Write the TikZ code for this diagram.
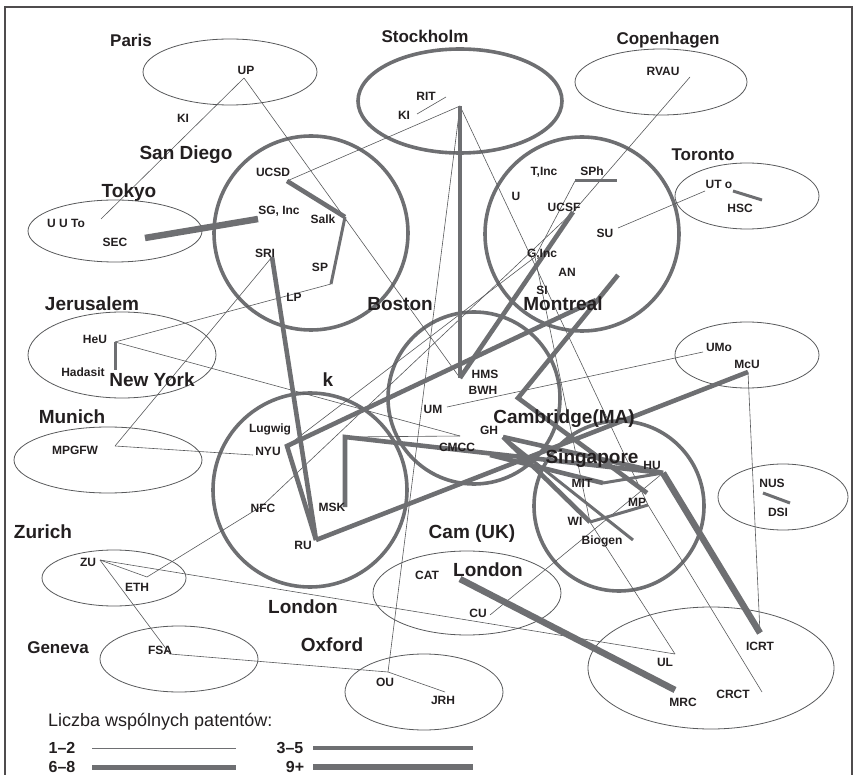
\documentclass[tikz,border=0pt]{standalone}
\usepackage{fontspec}
\setmainfont{Liberation Sans}
\definecolor{lg}{RGB}{110,111,114}
\definecolor{txt}{RGB}{35,31,32}
\begin{document}
\begin{tikzpicture}[x=1pt,y=-1pt,
  lbl/.style={font=\fontsize{12}{12}\selectfont\bfseries, text=txt, inner sep=0pt, text height=8.6pt, text depth=0pt},
  city/.style={font=\fontsize{19}{19}\selectfont\bfseries, text=txt, inner sep=0pt, text height=13.6pt, text depth=0pt},
  cityS/.style={font=\fontsize{17}{17}\selectfont\bfseries, text=txt, inner sep=0pt, text height=12.2pt, text depth=0pt},
  thin/.style={draw=lg!80!black, line width=0.6pt},
  wa/.style={draw=lg, line width=3pt},
  wb/.style={draw=lg, line width=4.6pt},
  wc/.style={draw=lg, line width=6.5pt},
  ring/.style={draw=lg, line width=3.6pt},
  oval/.style={draw=lg!80!black, line width=0.8pt},
]
\useasboundingbox (0,0) rectangle (857,775);
\draw[draw=txt!80, line width=1.5pt] (5,7) rectangle (852,778);

% ---- group outlines
\draw[oval] (230,72) ellipse [x radius=87, y radius=33];   % Paris
\draw[ring] (460,101) ellipse [x radius=102, y radius=52]; % Stockholm
\draw[oval] (661,82) ellipse [x radius=86, y radius=33];   % Copenhagen
\draw[oval] (747,196) ellipse [x radius=72, y radius=33];  % Toronto
\draw[oval] (115,231) ellipse [x radius=87, y radius=31];  % Tokyo
\draw[ring] (311,233) circle [radius=97];                  % San Diego
\draw[ring] (582,234) circle [radius=97];                  % SF
\draw[oval] (122,355) ellipse [x radius=94, y radius=43];  % Jerusalem
\draw[oval] (108,460) ellipse [x radius=94, y radius=33];  % Munich
\draw[ring] (474,398) circle [radius=86];                  % Boston
\draw[ring] (310,490) circle [radius=97];                  % New York
\draw[oval] (747,355) ellipse [x radius=72, y radius=33];  % Montreal
\draw[ring] (619,506) circle [radius=85];                  % Cambridge MA
\draw[oval] (783,497) ellipse [x radius=65, y radius=33];  % Singapore
\draw[oval] (114,578) ellipse [x radius=72, y radius=28];  % Zurich
\draw[oval] (179,659) ellipse [x radius=79, y radius=33];  % Geneva
\draw[oval] (467,593) ellipse [x radius=94, y radius=42];  % Cam UK
\draw[oval] (424,692) ellipse [x radius=79, y radius=38];  % Oxford
\draw[oval] (711,668) ellipse [x radius=123, y radius=61]; % London

% ---- vertices
\coordinate (vUP) at (244,78);
\coordinate (vUUTo) at (101,219);
\coordinate (vSEC) at (145,238);
\coordinate (vSG) at (258,219);
\coordinate (vUCSD) at (287,181);
\coordinate (vSalk) at (345,217);
\coordinate (vSP) at (331,284);
\coordinate (vSRI) at (272,257);
\coordinate (vRIT) at (446,97);
\coordinate (vKIs) at (417,114);
\coordinate (vSth) at (460,106);
\coordinate (vHMS) at (460,378);
\coordinate (vOU) at (388,672);
\coordinate (vJRH) at (445,692);
\coordinate (vFSA) at (170,654);
\coordinate (vZU) at (100,560);
\coordinate (vETH) at (147,577);
\coordinate (vNFC) at (262,506);
\coordinate (vHeU) at (115,342);
\coordinate (vHad) at (115,370);
\coordinate (vMPG) at (115,446);
\coordinate (vNYUt) at (253,455);
\coordinate (vNYU) at (287,446);
\coordinate (vRU) at (316,540);
\coordinate (vMSK) at (345,507);
\coordinate (vMSKc) at (345,437);
\coordinate (vCMCC) at (460,436);
\coordinate (vUM) at (447,407);
\coordinate (vUMo) at (703,352);
\coordinate (vMcU) at (748,372);
\coordinate (vICRT) at (760,633);
\coordinate (vHU) at (663,473);
\coordinate (vMRC) at (675,690);
\coordinate (vLonUK) at (460,579);
\coordinate (vUL) at (675,654);
\coordinate (vCRCT) at (762,692);
\coordinate (vMP) at (648,505);
\coordinate (vCU) at (490,615);
\coordinate (vWI) at (590,522);
\coordinate (vSPh) at (575,181);
\coordinate (vSPhR) at (617,181);
\coordinate (vUCSF) at (573,212);
\coordinate (vGInc) at (535,257);
\coordinate (vAN) at (618,275);
\coordinate (vANc) at (518,398);
\coordinate (vMont) at (596,300);
\coordinate (vSU) at (618,228);
\coordinate (vUT) at (705,191);
\coordinate (vUTo) at (733,191);
\coordinate (vHSC) at (762,200);
\coordinate (vRVAU) at (690,77);
\coordinate (vNUS) at (763,493);
\coordinate (vDSI) at (790,503);
\coordinate (vGH) at (503,437);
\coordinate (vMIT) at (603,483);
\coordinate (vMITl) at (490,455);
\coordinate (vBiogen) at (633,540);
\coordinate (vClu) at (647,493);

% ---- thin links
\draw[thin] (vUP) -- (vUUTo);
\draw[thin] (vUP) -- (vHMS);
\draw[thin] (vSth) -- (vUCSD);
\draw[thin] (vKIs) -- (vRIT);
\draw[thin] (vSth) -- (vOU);
\draw[thin] (vSth) -- (vMP) -- (vCRCT);
\draw[thin] (vFSA) -- (vOU) -- (vJRH);
\draw[thin] (vZU) -- (vETH) -- (vNFC) -- (vUCSF);
\draw[thin] (vZU) -- (vFSA);
\draw[thin] (vZU) -- (vUL);
\draw[thin] (vNYU) -- (vGInc);
\draw[thin] (vHeU) -- (vSP);
\draw[thin] (vHeU) -- (vCMCC);
\draw[thin] (vMPG) -- (vSRI);
\draw[thin] (vMPG) -- (vNYUt);
\draw[thin] (vUMo) -- (vUM);
\draw[thin] (vMcU) -- (vICRT);
\draw[thin] (vSU) -- (vUT);
\draw[thin] (vRVAU) -- (vUCSF);
\draw[thin] (vCU) -- (vHU);
\draw[thin] (vWI) -- (vUL);
\draw[thin] (vSPh) -- (vGInc) -- (vWI);
\draw[thin] (vMSKc) -- (vCMCC);

% ---- heavier links
\draw[wc] (vSEC) -- (vSG);
\draw[wb] (vUCSD) -- (vSalk);
\draw[wa] (vSalk) -- (vSP);
\draw[wb] (vSRI) -- (vRU);
\draw[wb] (vSth) -- (vHMS);
\draw[wb] (vUCSF) -- (vHMS);
\draw[wb] (vAN) -- (vANc) -- (vClu);
\draw[wb] (vMont) -- (vNYU) -- (vRU);
\draw[wb] (vRU) -- (vMcU);
\draw[wb] (vMSK) -- (vMSKc) -- (vHU);
\draw[wc] (vHU) -- (vICRT);
\draw[wc] (vLonUK) -- (vMRC);
\draw[wa] (vHad) -- (vHeU);
\draw[wa] (vSPh) -- (vSPhR);
\draw[wa] (vUTo) -- (vHSC);
\draw[wa] (vNUS) -- (vDSI);
\draw[wb] (vGH) -- (vHU);
\draw[wb] (vGH) -- (vWI);
\draw[wa] (vGH) -- (vBiogen);
\draw[wb] (vMITl) -- (vMIT);
\draw[wa] (vMIT) -- (vHU);
\draw[wa] (vWI) -- (vMP);

% ---- city labels
\node[cityS] (tParis) at (131,40) {Paris};
\node[cityS] (tStock) at (425,36) {Stockholm};
\node[cityS] (tCopen) at (668,38) {Copenhagen};
\node[cityS] (tToronto) at (703,154) {Toronto};
\node[city] (tSD) at (186,153) {San Diego};
\node[city] (tTokyo) at (129,191) {Tokyo};
\node[city] (tJer) at (92,304) {Jerusalem};
\node[city] (tNY) at (152,380) {New York};
\node[city] (tMunich) at (72,417) {Munich};
\node[city] (tBoston) at (400,304) {Boston};
\node[city] (tMontreal) at (563,304) {Montreal};
\node[city] (tk) at (328,380) {k};
\node[city] (tCamMA) at (564,417) {Cambridge(MA)};
\node[city] (tSing) at (592,457) {Singapore};
\node[city] (tZurich) at (43,532) {Zurich};
\node[city] (tCamUK) at (472,532) {Cam (UK)};
\node[city] (tLonUK) at (488,570) {London};
\node[city] (tLondon) at (303,607) {London};
\node[cityS] (tGeneva) at (58,647) {Geneva};
\node[city] (tOxford) at (332,645) {Oxford};

% ---- small labels
\node[lbl] (UP) at (246,70) {UP};
\node[lbl] (KIp) at (183,118) {KI};
\node[lbl] (UUTo) at (66,223) {U U To};
\node[lbl] (SEC) at (115,242) {SEC};
\node[lbl] (RIT) at (426,96) {RIT};
\node[lbl] (KI) at (404,115) {KI};
\node[lbl] (RVAU) at (663,71) {RVAU};
\node[lbl] (UCSD) at (273,172) {UCSD};
\node[lbl] (SG) at (279,210) {SG, Inc};
\node[lbl] (Salk) at (323,219) {Salk};
\node[lbl] (SRI) at (265,253) {SRI};
\node[lbl] (SP) at (320,267) {SP};
\node[lbl] (LP) at (294,297) {LP};
\node[lbl] (TInc) at (544,171) {T,Inc};
\node[lbl] (SPh) at (592,171) {SPh};
\node[lbl] (U) at (516,196) {U};
\node[lbl] (UCSF) at (564,207) {UCSF};
\node[lbl] (SU) at (605,233) {SU};
\node[lbl] (GInc) at (542,253) {G,Inc};
\node[lbl] (AN) at (567,272) {AN};
\node[lbl] (SI) at (542,290) {SI};
\node[lbl] (UTo) at (719,184) {UT o};
\node[lbl] (HSC) at (740,208) {HSC};
\node[lbl] (HeU) at (95,339) {HeU};
\node[lbl] (Hadasit) at (83,372) {Hadasit};
\node[lbl] (MPGFW) at (75,450) {MPGFW};
\node[lbl] (Lugwig) at (270,428) {Lugwig};
\node[lbl] (NYU) at (268,451) {NYU};
\node[lbl] (NFC) at (263,508) {NFC};
\node[lbl] (RU) at (303,545) {RU};
\node[lbl] (MSK) at (332,507) {MSK};
\node[lbl] (HMS) at (485,374) {HMS};
\node[lbl] (BWH) at (483,390) {BWH};
\node[lbl] (UM) at (433,409) {UM};
\node[lbl] (GH) at (489,430) {GH};
\node[lbl] (CMCC) at (457,447) {CMCC};
\node[lbl] (UMo) at (719,347) {UMo};
\node[lbl] (McU) at (747,364) {McU};
\node[lbl] (HU) at (652,465) {HU};
\node[lbl] (MIT) at (582,483) {MIT};
\node[lbl] (MP) at (637,502) {MP};
\node[lbl] (WI) at (575,521) {WI};
\node[lbl] (Biogen) at (602,540) {Biogen};
\node[lbl] (NUS) at (772,483) {NUS};
\node[lbl] (DSI) at (778,512) {DSI};
\node[lbl] (ZU) at (88,562) {ZU};
\node[lbl] (ETH) at (137,587) {ETH};
\node[lbl] (FSA) at (160,650) {FSA};
\node[lbl] (CAT) at (427,575) {CAT};
\node[lbl] (CU) at (478,613) {CU};
\node[lbl] (OU) at (385,682) {OU};
\node[lbl] (JRH) at (443,700) {JRH};
\node[lbl] (ICRT) at (760,646) {ICRT};
\node[lbl] (UL) at (665,662) {UL};
\node[lbl] (MRC) at (683,702) {MRC};
\node[lbl] (CRCT) at (733,694) {CRCT};

% ---- legend
\node[font=\fontsize{18}{18}\selectfont, text=txt, anchor=west, inner sep=0pt] (leg) at (48,722) {Liczba wspólnych patentów:};
\node[font=\fontsize{16}{16}\selectfont\bfseries, text=txt, inner sep=0pt] (l12) at (62,748) {1–2};
\node[font=\fontsize{16}{16}\selectfont\bfseries, text=txt, inner sep=0pt] (l68) at (62,767) {6–8};
\node[font=\fontsize{16}{16}\selectfont\bfseries, text=txt, inner sep=0pt] (l35) at (290,748) {3–5};
\node[font=\fontsize{16}{16}\selectfont\bfseries, text=txt, inner sep=0pt] (l9) at (295,767) {9+};
\coordinate (a1) at (92,748); \coordinate (a2) at (236,748);
\coordinate (b1) at (92,767); \coordinate (b2) at (236,767);
\coordinate (c1) at (313,748); \coordinate (c2) at (473,748);
\coordinate (d1) at (313,767); \coordinate (d2) at (473,767);
\draw[draw=lg, line width=0.9pt] (a1) -- (a2);
\draw[draw=lg, line width=5pt] (b1) -- (b2);
\draw[draw=lg, line width=3.2pt] (c1) -- (c2);
\draw[draw=lg, line width=6.5pt] (d1) -- (d2);
\end{tikzpicture}
\end{document}
